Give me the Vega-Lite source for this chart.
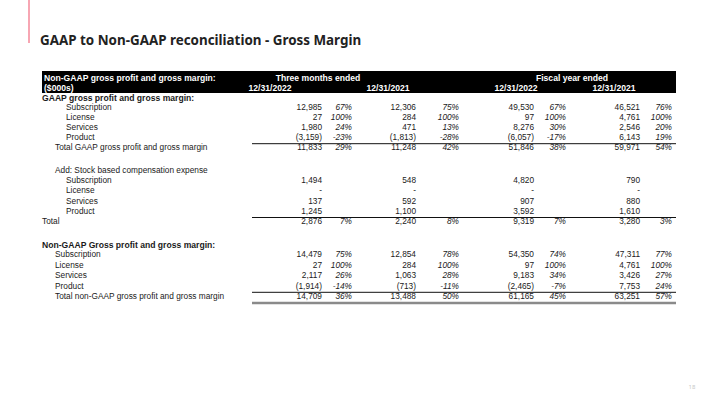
{
  "$schema": "https://vega.github.io/schema/vega-lite/v6.json",
  "width": 720,
  "height": 405,
  "autosize": {"type": "none"},
  "padding": 0,
  "background": "white",
  "config": {
    "view": {"stroke": null},
    "text": {"font": "Liberation Sans", "fontSize": 8.3, "color": "#1a1a1a", "baseline": "middle"}
  },
  "title": {
    "text": "GAAP to Non-GAAP reconciliation - Gross Margin",
    "anchor": "start",
    "frame": "group",
    "offset": -59,
    "dx": 40,
    "baseline": "alphabetic",
    "font": "Noto Sans",
    "fontSize": 13.4,
    "fontWeight": "bold",
    "color": "#222222"
  },
  "datasets": {
    "rows": [
      {"r": 2, "kind": "heading", "lv": 1, "label": "GAAP gross profit and gross margin:"},
      {"r": 3, "kind": "item", "lv": 3, "label": "Subscription", "q22": 12985, "q22p": 67, "q21": 12306, "q21p": 75, "y22": 49530, "y22p": 67, "y21": 46521, "y21p": 76},
      {"r": 4, "kind": "item", "lv": 3, "label": "License", "q22": 27, "q22p": 100, "q21": 284, "q21p": 100, "y22": 97, "y22p": 100, "y21": 4761, "y21p": 100},
      {"r": 5, "kind": "item", "lv": 3, "label": "Services", "q22": 1980, "q22p": 24, "q21": 471, "q21p": 13, "y22": 8276, "y22p": 30, "y21": 2546, "y21p": 20},
      {"r": 6, "kind": "item", "lv": 3, "label": "Product", "q22": -3159, "q22p": -23, "q21": -1813, "q21p": -28, "y22": -6057, "y22p": -17, "y21": 6143, "y21p": 19},
      {"r": 7, "kind": "total", "lv": 2, "label": "Total GAAP gross profit and gross margin", "q22": 11833, "q22p": 29, "q21": 11248, "q21p": 42, "y22": 51846, "y22p": 38, "y21": 59971, "y21p": 54},
      {"r": 9, "kind": "item", "lv": 2, "label": "Add: Stock based compensation expense"},
      {"r": 10, "kind": "item", "lv": 3, "label": "Subscription", "q22": 1494, "q21": 548, "y22": 4820, "y21": 790},
      {"r": 11, "kind": "item", "lv": 3, "label": "License", "q22": 0, "q21": 0, "y22": 0, "y21": 0},
      {"r": 12, "kind": "item", "lv": 3, "label": "Services", "q22": 137, "q21": 592, "y22": 907, "y21": 880},
      {"r": 13, "kind": "item", "lv": 3, "label": "Product", "q22": 1245, "q21": 1100, "y22": 3592, "y21": 1610},
      {"r": 14, "kind": "total", "lv": 1, "label": "Total", "q22": 2876, "q22p": 7, "q21": 2240, "q21p": 8, "y22": 9319, "y22p": 7, "y21": 3280, "y21p": 3},
      {"r": 16, "kind": "heading", "lv": 1, "label": "Non-GAAP Gross profit and gross margin:"},
      {"r": 17, "kind": "item", "lv": 2, "label": "Subscription", "q22": 14479, "q22p": 75, "q21": 12854, "q21p": 78, "y22": 54350, "y22p": 74, "y21": 47311, "y21p": 77},
      {"r": 18, "kind": "item", "lv": 2, "label": "License", "q22": 27, "q22p": 100, "q21": 284, "q21p": 100, "y22": 97, "y22p": 100, "y21": 4761, "y21p": 100},
      {"r": 19, "kind": "item", "lv": 2, "label": "Services", "q22": 2117, "q22p": 26, "q21": 1063, "q21p": 28, "y22": 9183, "y22p": 34, "y21": 3426, "y21p": 27},
      {"r": 20, "kind": "item", "lv": 2, "label": "Product", "q22": -1914, "q22p": -14, "q21": -713, "q21p": -11, "y22": -2465, "y22p": -7, "y21": 7753, "y21p": 24},
      {"r": 21, "kind": "grandtotal", "lv": 2, "label": "Total non-GAAP gross profit and gross margin", "q22": 14709, "q22p": 36, "q21": 13488, "q21p": 50, "y22": 61165, "y22p": 45, "y21": 63251, "y21p": 57}
    ],
    "header": [
      {"text": "Non-GAAP gross profit and gross margin:", "hr": 0, "col": "label"},
      {"text": "($000s)", "hr": 1, "col": "label"},
      {"text": "Three months ended", "hr": 0, "col": "q"},
      {"text": "Fiscal year ended", "hr": 0, "col": "y"},
      {"text": "12/31/2022", "hr": 1, "col": "q22"},
      {"text": "12/31/2021", "hr": 1, "col": "q21"},
      {"text": "12/31/2022", "hr": 1, "col": "y22"},
      {"text": "12/31/2021", "hr": 1, "col": "y21"}
    ]
  },
  "layer": [
    {
      "data": {"values": [{}]},
      "mark": {"type": "rule", "color": "#f4899a", "strokeWidth": 1.5},
      "encoding": {
        "x": {"datum": 0, "type": "quantitative", "axis": null,
          "scale": {"domain": [0,1,2,3,4,5,6,7,8,9,10,11,12,13,14,15,16,17,18,19,20],
                    "range": [29,42,55,66,252,270,318,322,352,388,416,459,516,534,566,572,614,640,672,676,692],
                    "zero": false, "nice": false, "clamp": false}},
        "y": {"datum": -6, "type": "quantitative", "axis": null,
          "scale": {"domain": [-6,-3,0,7,9,14,16,21,29],
                    "range": [0,43,78,148,171,222,245,297,387],
                    "zero": false, "nice": false, "clamp": false}},
        "y2": {"datum": -3}
      }
    },
    {
      "data": {"values": [{}]},
      "mark": {"type": "rect", "color": "#000000"},
      "encoding": {
        "x": {"datum": 1, "type": "quantitative"},
        "x2": {"datum": 19},
        "y": {"datum": -0.6, "type": "quantitative"},
        "y2": {"datum": 1.5}
      }
    },
    {
      "data": {"name": "header"},
      "transform": [{"filter": "datum.col === 'label'"}],
      "mark": {"type": "text", "align": "left", "dx": 2, "color": "white", "fontWeight": "bold", "fontSize": 8.6},
      "encoding": {
        "x": {"datum": 1, "type": "quantitative"},
        "y": {"field": "hr", "type": "quantitative"},
        "text": {"field": "text"}
      }
    },
    {
      "data": {"name": "header"},
      "transform": [
        {"filter": "datum.col !== 'label'"},
        {"calculate": "[6,15,5,9,12,16][indexof(['q','y','q22','q21','y22','y21'], datum.col)]", "as": "slot"}
      ],
      "mark": {"type": "text", "align": "center", "color": "white", "fontWeight": "bold", "fontSize": 8.6},
      "encoding": {
        "x": {"field": "slot", "type": "quantitative"},
        "y": {"field": "hr", "type": "quantitative"},
        "text": {"field": "text"}
      }
    },
    {
      "data": {"name": "rows"},
      "transform": [{"filter": "datum.kind !== 'heading'"}],
      "mark": {"type": "text", "align": "left"},
      "encoding": {
        "x": {"field": "lv", "type": "quantitative"},
        "y": {"field": "r", "type": "quantitative"},
        "text": {"field": "label"}
      }
    },
    {
      "data": {"name": "rows"},
      "transform": [{"filter": "datum.kind === 'heading'"}],
      "mark": {"type": "text", "align": "left", "fontWeight": "bold", "fontSize": 8.6},
      "encoding": {
        "x": {"field": "lv", "type": "quantitative"},
        "y": {"field": "r", "type": "quantitative"},
        "text": {"field": "label"}
      }
    },
    {
      "data": {"name": "rows"},
      "transform": [
        {"fold": ["q22", "q21", "y22", "y21"], "as": ["col", "v"]},
        {"filter": "isValid(datum.v)"},
        {"calculate": "[7,10,13,17][indexof(['q22','q21','y22','y21'], datum.col)]", "as": "slot"},
        {"calculate": "datum.v === 0 ? '-    ' : (datum.v < 0 ? '(' + format(-datum.v, ',') + ')' : format(datum.v, ',') + ' ')", "as": "txt"}
      ],
      "mark": {"type": "text", "align": "right"},
      "encoding": {
        "x": {"field": "slot", "type": "quantitative"},
        "y": {"field": "r", "type": "quantitative"},
        "text": {"field": "txt"}
      }
    },
    {
      "data": {"name": "rows"},
      "transform": [
        {"fold": ["q22p", "q21p", "y22p", "y21p"], "as": ["col", "p"]},
        {"filter": "isValid(datum.p)"},
        {"calculate": "[8,11,14,18][indexof(['q22p','q21p','y22p','y21p'], datum.col)]", "as": "slot"},
        {"calculate": "datum.p + '%'", "as": "txt"}
      ],
      "mark": {"type": "text", "align": "right", "fontStyle": "italic"},
      "encoding": {
        "x": {"field": "slot", "type": "quantitative"},
        "y": {"field": "r", "type": "quantitative"},
        "text": {"field": "txt"}
      }
    },
    {
      "data": {"name": "rows"},
      "transform": [{"filter": "datum.label === 'Product'"}],
      "mark": {"type": "rule", "color": "#111111", "strokeWidth": 1, "yOffset": 5.7},
      "encoding": {
        "x": {"datum": 4, "type": "quantitative"},
        "x2": {"datum": 19},
        "y": {"field": "r", "type": "quantitative"}
      }
    },
    {
      "data": {"name": "rows"},
      "transform": [{"filter": "datum.kind === 'grandtotal'"}],
      "mark": {"type": "rule", "color": "#8a8a8a", "strokeWidth": 2.5, "yOffset": 6},
      "encoding": {
        "x": {"datum": 4, "type": "quantitative"},
        "x2": {"datum": 19},
        "y": {"field": "r", "type": "quantitative"}
      }
    },
    {
      "data": {"values": [{"page": "18"}]},
      "mark": {"type": "text", "align": "center", "fontSize": 6, "color": "#c8c8c8", "font": "Noto Sans"},
      "encoding": {
        "x": {"datum": 20, "type": "quantitative"},
        "y": {"datum": 29, "type": "quantitative"},
        "text": {"field": "page"}
      }
    }
  ]
}
